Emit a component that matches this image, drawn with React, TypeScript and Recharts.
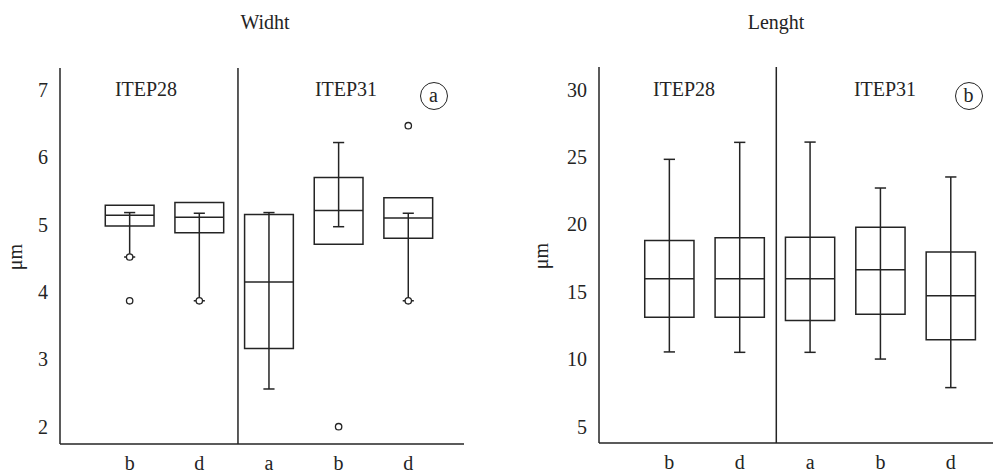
import React from 'react';
import { ComposedChart, XAxis, YAxis, ReferenceLine, ReferenceArea, Scatter } from 'recharts';

// Categories along the x axis (two groups: ITEP28 = b,d ; ITEP31 = a,b,d)
const categories = ['b', 'd', 'a', 'b', 'd'];
const positions = [1, 2, 3, 4, 5];
const groupLabels = ['ITEP28', 'ITEP31'];

// Width (µm)
const widthQ1 = [4.98, 4.88, 3.16, 4.71, 4.8];
const widthMedian = [5.14, 5.11, 4.15, 5.21, 5.1];
const widthQ3 = [5.29, 5.33, 5.15, 5.7, 5.4];
const widthLow = [4.52, 3.87, 2.56, 4.97, 3.87];
const widthHigh = [5.18, 5.17, 5.18, 6.22, 5.17];
const widthLowMarked = [true, true, false, false, true];
const widthOutlierPos = [1, 4, 5];
const widthOutlierVal = [3.87, 2.0, 6.47];
const widthTicks = [2, 3, 4, 5, 6, 7];

// Length (µm)
const lengthQ1 = [13.1, 13.1, 12.87, 13.32, 11.44];
const lengthMedian = [15.97, 15.97, 15.97, 16.64, 14.71];
const lengthQ3 = [18.81, 19.01, 19.04, 19.78, 17.95];
const lengthLow = [10.53, 10.5, 10.5, 10.0, 7.88];
const lengthHigh = [24.83, 26.09, 26.11, 22.7, 23.52];
const lengthLowMarked = [false, false, false, false, false];
const lengthOutlierPos: number[] = [];
const lengthOutlierVal: number[] = [];
const lengthTicks = [5, 10, 15, 20, 25, 30];

const INK = '#242424';
const FONT = 'Liberation Serif, DejaVu Serif, serif';
const SW = 1.5;
const HALF_BOX = 0.35;
const HALF_CAP = 0.08;

type PanelProps = {
  q1: number[];
  med: number[];
  q3: number[];
  lo: number[];
  hi: number[];
  lowMarked: boolean[];
  outPos: number[];
  outVal: number[];
  ticks: number[];
  yDomain: [number, number];
  xDomain: [number, number];
  separator: number;
  width: number;
  height: number;
  margin: { top: number; right: number; bottom: number; left: number };
  yAxisWidth: number;
  xAxisHeight: number;
};

const circleShape = (p: any) => (
  <circle cx={p.cx} cy={p.cy} r={3.2} fill="#fff" stroke={INK} strokeWidth={1.3} />
);

function BoxPanel(props: PanelProps) {
  const { q1, med, q3, lo, hi, lowMarked, outPos, outVal } = props;
  const elements: React.ReactElement[] = [];
  positions.forEach((x, i) => {
    elements.push(
      <ReferenceArea
        key={`box-${i}`}
        x1={x - HALF_BOX}
        x2={x + HALF_BOX}
        y1={q1[i]}
        y2={q3[i]}
        fill="none"
        fillOpacity={0}
        stroke={INK}
        strokeWidth={SW}
        ifOverflow="visible"
      />
    );
    elements.push(
      <ReferenceLine
        key={`med-${i}`}
        segment={[{ x: x - HALF_BOX, y: med[i] }, { x: x + HALF_BOX, y: med[i] }]}
        stroke={INK}
        strokeWidth={SW}
        ifOverflow="visible"
      />
    );
    elements.push(
      <ReferenceLine
        key={`wh-${i}`}
        segment={[{ x, y: lo[i] }, { x, y: hi[i] }]}
        stroke={INK}
        strokeWidth={SW}
        ifOverflow="visible"
      />
    );
    elements.push(
      <ReferenceLine
        key={`capH-${i}`}
        segment={[{ x: x - HALF_CAP, y: hi[i] }, { x: x + HALF_CAP, y: hi[i] }]}
        stroke={INK}
        strokeWidth={SW}
        ifOverflow="visible"
      />
    );
    elements.push(
      <ReferenceLine
        key={`capL-${i}`}
        segment={[{ x: x - HALF_CAP, y: lo[i] }, { x: x + HALF_CAP, y: lo[i] }]}
        stroke={INK}
        strokeWidth={SW}
        ifOverflow="visible"
      />
    );
  });

  const markerData = [
    ...positions.filter((_, i) => lowMarked[i]).map((x) => ({ x, y: lo[positions.indexOf(x)] })),
    ...outPos.map((x, i) => ({ x, y: outVal[i] })),
  ];

  const tickStyle = { fontSize: 20, fill: INK, style: { fontFamily: FONT } };

  return (
    <ComposedChart width={props.width} height={props.height} margin={props.margin} style={{ fontFamily: FONT }}>
      <XAxis
        type="number"
        dataKey="x"
        domain={props.xDomain}
        ticks={positions}
        interval={0}
        allowDataOverflow
        tickFormatter={(v: number) => categories[positions.indexOf(v)] ?? ''}
        tickLine={false}
        tickSize={6}
        tickMargin={6}
        height={props.xAxisHeight}
        axisLine={{ stroke: INK, strokeWidth: SW }}
        tick={tickStyle}
      />
      <YAxis
        type="number"
        dataKey="y"
        domain={props.yDomain}
        ticks={props.ticks}
        interval={0}
        allowDataOverflow
        tickLine={false}
        tickSize={6}
        tickMargin={6}
        width={props.yAxisWidth}
        axisLine={{ stroke: INK, strokeWidth: SW }}
        tick={tickStyle}
      />
      <ReferenceLine x={props.separator} stroke={INK} strokeWidth={SW} />
      {elements}
      <Scatter data={markerData} shape={circleShape} isAnimationActive={false} />
    </ComposedChart>
  );
}

const textBase: React.CSSProperties = {
  position: 'absolute',
  fontFamily: FONT,
  fontSize: 20,
  lineHeight: '20px',
  color: INK,
  textAlign: 'center',
  whiteSpace: 'nowrap',
};

function CenterText({ cx, cy, children, w = 120 }: { cx: number; cy: number; children: React.ReactNode; w?: number }) {
  return <div style={{ ...textBase, left: cx - w / 2, top: cy - 10, width: w }}>{children}</div>;
}

function CircledLetter({ cx, cy, letter }: { cx: number; cy: number; letter: string }) {
  const d = 28;
  return (
    <div
      style={{
        ...textBase,
        left: cx - d / 2,
        top: cy - d / 2,
        width: d,
        height: d,
        lineHeight: `${d - 3}px`,
        border: `1.3px solid ${INK}`,
        borderRadius: '50%',
        boxSizing: 'border-box',
      }}
    >
      {letter}
    </div>
  );
}

function RotatedText({ cx, cy, children }: { cx: number; cy: number; children: React.ReactNode }) {
  return (
    <div
      style={{
        ...textBase,
        left: cx - 20,
        top: cy - 10,
        width: 40,
        height: 20,
        transform: 'rotate(-90deg)',
        transformOrigin: '50% 50%',
      }}
    >
      {children}
    </div>
  );
}

export default function App() {
  return (
    <div
      style={{
        position: 'absolute',
        left: 0,
        top: 0,
        width: 993,
        height: 474,
        background: '#fff',
        overflow: 'hidden',
        fontFamily: FONT,
      }}
    >
      <div style={{ position: 'absolute', left: 0, top: 0 }}>
        <BoxPanel
          q1={widthQ1}
          med={widthMedian}
          q3={widthQ3}
          lo={widthLow}
          hi={widthHigh}
          lowMarked={widthLowMarked}
          outPos={widthOutlierPos}
          outVal={widthOutlierVal}
          ticks={widthTicks}
          yDomain={[1.743, 7.327]}
          xDomain={[0, 5.8]}
          separator={2.555}
          width={480}
          height={474}
          margin={{ top: 68, right: 16, bottom: 0, left: 10 }}
          yAxisWidth={50}
          xAxisHeight={30}
        />
      </div>
      <div style={{ position: 'absolute', left: 513, top: 0 }}>
        <BoxPanel
          q1={lengthQ1}
          med={lengthMedian}
          q3={lengthQ3}
          lo={lengthLow}
          hi={lengthHigh}
          lowMarked={lengthLowMarked}
          outPos={lengthOutlierPos}
          outVal={lengthOutlierVal}
          ticks={lengthTicks}
          yDomain={[3.768, 31.685]}
          xDomain={[0, 5.6]}
          separator={2.52}
          width={480}
          height={474}
          margin={{ top: 67, right: 0, bottom: 0, left: 26 }}
          yAxisWidth={60}
          xAxisHeight={31}
        />
      </div>

      <CenterText cx={265} cy={21.5}>Widht</CenterText>
      <CenterText cx={776} cy={22}>Lenght</CenterText>

      <CenterText cx={146} cy={89}>{groupLabels[0]}</CenterText>
      <CenterText cx={346} cy={89}>{groupLabels[1]}</CenterText>
      <CenterText cx={684} cy={89}>{groupLabels[0]}</CenterText>
      <CenterText cx={885} cy={89}>{groupLabels[1]}</CenterText>

      <CircledLetter cx={433.5} cy={96} letter="a" />
      <CircledLetter cx={968.5} cy={96} letter="b" />

      <RotatedText cx={15} cy={257}>μm</RotatedText>
      <RotatedText cx={541} cy={256}>μm</RotatedText>
    </div>
  );
}
